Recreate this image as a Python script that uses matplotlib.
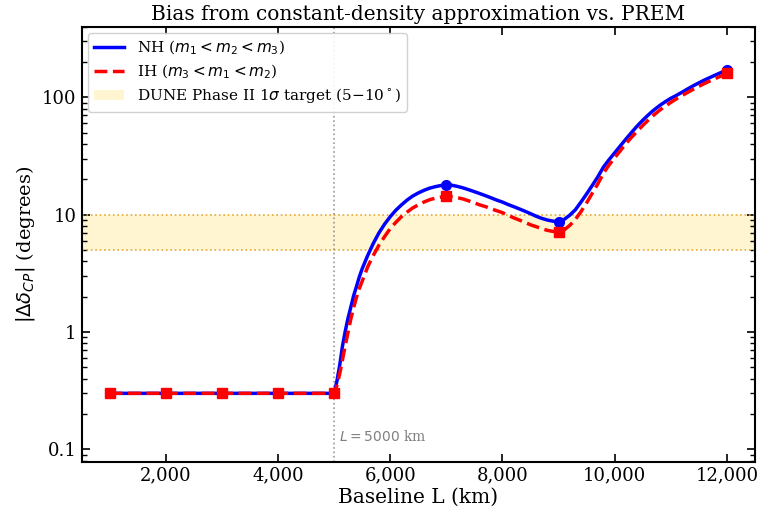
import numpy as np
import matplotlib
matplotlib.use("Agg")
import matplotlib.pyplot as plt
from matplotlib.ticker import FuncFormatter, LogLocator, NullFormatter

plt.rcParams['font.family'] = 'DejaVu Serif'
plt.rcParams['mathtext.fontset'] = 'dejavusans'

# simulated baselines (markers)
L_pts = [1000, 2000, 3000, 4000, 5000, 7000, 9000, 12000]
nh_pts = [0.3, 0.3, 0.3, 0.3, 0.3, 17.9, 8.7, 171]
ih_pts = [0.3, 0.3, 0.3, 0.3, 0.3, 14.3, 7.1, 160]

# smooth curves
curve_L = [1000, 2000, 3000, 4000, 5000, 5050, 5100, 5150, 5200, 5250, 5300, 5350,
           5400, 5450, 5500, 5600, 5700, 5800, 5900, 6000, 6100, 6200, 6300, 6400,
           6500, 6600, 6700, 6800, 6900, 7000, 7100, 7200, 7300, 7400, 7500, 7600,
           7700, 7800, 7900, 8000, 8100, 8200, 8300, 8400, 8500, 8600, 8700, 8800,
           8900, 9000, 9100, 9200, 9300, 9400, 9500, 9600, 9700, 9800, 9900, 10000,
           10100, 10200, 10300, 10400, 10500, 10600, 10700, 10800, 10900, 11000,
           11100, 11200, 11300, 11400, 11500, 11600, 11700, 11800, 11900, 12000]
nh_val = [0.3, 0.3, 0.3, 0.3, 0.3, 0.38, 0.52, 0.76, 1.02, 1.32, 1.64, 2.05,
          2.45, 2.95, 3.45, 4.5, 5.7, 7.0, 8.3, 9.6, 10.9, 12.1, 13.3, 14.4,
          15.3, 16.1, 16.8, 17.3, 17.7, 17.9, 17.8, 17.4, 16.9, 16.3, 15.7, 15.1,
          14.5, 13.9, 13.3, 12.8, 12.2, 11.7, 11.2, 10.7, 10.2, 9.7, 9.3, 9.0,
          8.8, 8.7, 9.1, 9.9, 11.0, 12.8, 15.0, 17.7, 21.0, 25.4, 29.4, 33.6,
          38.5, 44.0, 50.1, 56.8, 63.7, 70.8, 78.0, 84.9, 91.6, 98.0,
          103.8, 110.4, 117.8, 125.3, 132.7, 140.3, 147.6, 155.2, 163, 171]
ih_val = [0.3, 0.3, 0.3, 0.3, 0.3, 0.35, 0.44, 0.58, 0.77, 1.0, 1.3, 1.62,
          1.98, 2.35, 2.7, 3.6, 4.5, 5.5, 6.5, 7.6, 8.6, 9.6, 10.5, 11.4,
          12.1, 12.8, 13.4, 13.8, 14.1, 14.3, 14.2, 13.95, 13.6, 13.1, 12.6, 12.1,
          11.7, 11.2, 10.8, 10.4, 9.9, 9.4, 9.0, 8.6, 8.2, 7.9, 7.6, 7.35,
          7.2, 7.1, 7.4, 8.1, 9.1, 10.6, 12.6, 15.2, 18.3, 22.5, 26.5, 30.5,
          35.0, 40.2, 45.6, 51.2, 57.5, 64.0, 70.7, 77.5, 84.0, 90.5,
          97, 103.5, 110, 117, 124, 131, 138, 145, 152, 160]

band_lo, band_hi = 5, 10
L_cut = 5000

fig = plt.figure(figsize=(7.61, 5.16), dpi=100)
ax = fig.add_axes([0.1072, 0.1047, 0.8848, 0.8436])

ax.axhspan(band_lo, band_hi, facecolor='#fff5d0', edgecolor='none',
           label=r'DUNE Phase II 1$\sigma$ target (5$-$10$^\circ$)')
ax.axhline(band_lo, color='#e5a93a', ls=':', lw=1.2)
ax.axhline(band_hi, color='#e5a93a', ls=':', lw=1.2)
ax.axvline(L_cut, color='gray', linestyle=':', linewidth=1.2, alpha=0.8)

ax.plot(curve_L, nh_val, color='blue', lw=2.5, label=r'NH ($m_1 < m_2 < m_3$)')
ax.plot(L_pts, nh_pts, 'o', color='blue', ms=7)
ax.plot(curve_L, ih_val, color='red', lw=2.5, ls='--', label=r'IH ($m_3 < m_1 < m_2$)')
ax.plot(L_pts, ih_pts, 's', color='red', ms=7.5)

ax.text(5080, 0.118, r'$L = 5000$ km', color='gray', fontsize=10)

ax.set_yscale('log')
ax.set_xlim(500, 12500)
ax.set_ylim(0.078, 400)
ax.yaxis.set_major_formatter(FuncFormatter(lambda v, p: f'{v:g}'))
ax.yaxis.set_minor_locator(LogLocator(subs=np.arange(2, 10)))
ax.yaxis.set_minor_formatter(NullFormatter())
ax.set_xticks([2000, 4000, 6000, 8000, 10000, 12000])
ax.xaxis.set_major_formatter(FuncFormatter(lambda v, p: f'{int(v):,}'))
ax.tick_params(which='both', direction='in', top=True, right=True, labelsize=13)
ax.tick_params(which='major', length=6, width=1.2)
ax.tick_params(which='minor', length=3.5, width=1)
for s in ax.spines.values():
    s.set_linewidth(1.5)

ax.set_xlabel('Baseline L (km)', fontsize=14.5, labelpad=2)
ax.set_ylabel(r'$|\Delta\delta_{CP}|$ (degrees)', fontsize=14)
ax.set_title('Bias from constant-density approximation vs. PREM', fontsize=14.5, pad=5)

h, l = ax.get_legend_handles_labels()
order = [1, 2, 0]
ax.legend([h[i] for i in order], [l[i] for i in order], loc='upper left', fontsize=11,
          framealpha=0.9, edgecolor='#cccccc', borderaxespad=0.4, labelspacing=0.35)

fig.savefig('out.png', dpi=100)
